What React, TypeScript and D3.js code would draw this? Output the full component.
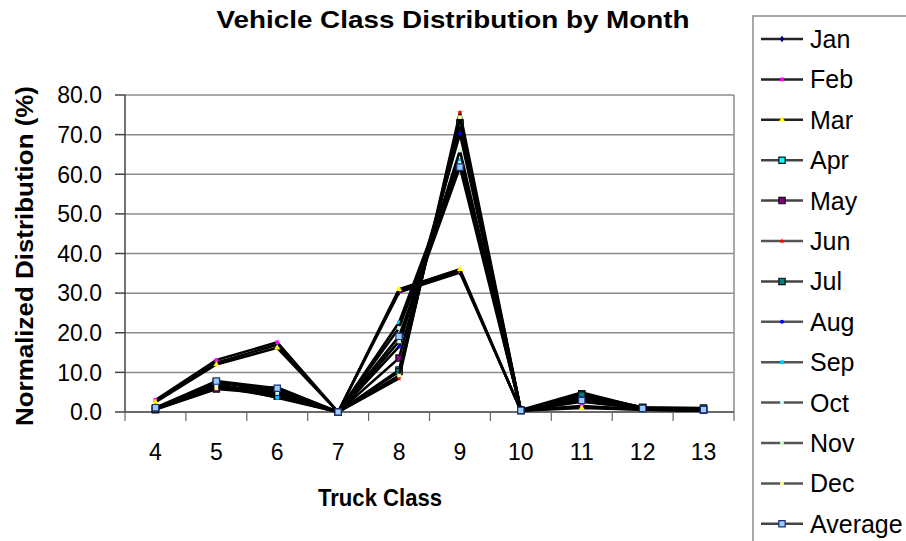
import * as d3 from "d3";

const width = 906;
const height = 541;
const margin = { left: 125, right: 172, top: 95, bottom: 129 };

const classes = ["4", "5", "6", "7", "8", "9", "10", "11", "12", "13"];
const yTicks = [0, 10, 20, 30, 40, 50, 60, 70, 80];

const jan = [2.6, 12.4, 17.0, 0.0, 30.2, 35.2, 0.4, 1.3, 0.6, 0.3];
const feb = [3.0, 13.1, 17.6, 0.0, 30.6, 35.6, 0.4, 1.5, 0.7, 0.4];
const mar = [2.5, 12.0, 16.2, 0.0, 31.0, 36.0, 0.3, 1.0, 0.6, 0.3];
const apr = [0.8, 7.6, 5.2, 0.0, 10.6, 73.0, 0.5, 3.8, 1.0, 0.6];
const may = [0.6, 5.8, 4.6, 0.0, 13.6, 71.2, 0.4, 4.6, 1.1, 0.5];
const jun = [0.7, 6.4, 3.8, 0.0, 8.5, 75.6, 0.5, 4.9, 1.0, 0.5];
const jul = [0.8, 7.2, 4.0, 0.0, 10.2, 72.8, 0.4, 4.3, 1.2, 1.0];
const aug = [0.9, 6.8, 4.4, 0.0, 16.5, 70.2, 0.5, 3.5, 0.9, 0.5];
const sep = [1.0, 7.0, 3.6, 0.0, 22.6, 63.6, 0.4, 3.2, 0.8, 0.4];
const oct = [0.9, 6.6, 4.8, 0.0, 21.2, 62.8, 0.5, 3.0, 0.9, 0.5];
const nov = [0.8, 6.2, 5.6, 0.0, 17.8, 66.0, 0.4, 2.8, 0.8, 0.4];
const dec = [0.7, 6.0, 6.2, 0.0, 9.2, 74.4, 0.3, 2.6, 0.9, 0.5];
const average = [1.1, 7.8, 6.0, 0.0, 19.1, 61.8, 0.4, 2.9, 0.9, 0.6];

type Series = {
  name: string;
  values: number[];
  fill: string;
  shape: d3.SymbolType;
  size: number;
  border: string;
  legendLine: string;
};

// marker style per month, like the old spreadsheet defaults
const series: Series[] = [
  { name: "Jan", values: jan, fill: "#000080", shape: d3.symbolDiamond, size: 14, border: "none", legendLine: "#222" },
  { name: "Feb", values: feb, fill: "#ff00ff", shape: d3.symbolSquare, size: 14, border: "none", legendLine: "#222" },
  { name: "Mar", values: mar, fill: "#ffff00", shape: d3.symbolTriangle, size: 16, border: "none", legendLine: "#222" },
  { name: "Apr", values: apr, fill: "#00ffff", shape: d3.symbolSquare, size: 40, border: "#111", legendLine: "#444" },
  { name: "May", values: may, fill: "#800080", shape: d3.symbolSquare, size: 40, border: "#111", legendLine: "#444" },
  { name: "Jun", values: jun, fill: "#ff0000", shape: d3.symbolStar, size: 10, border: "none", legendLine: "#555" },
  { name: "Jul", values: jul, fill: "#008080", shape: d3.symbolSquare, size: 40, border: "#111", legendLine: "#444" },
  { name: "Aug", values: aug, fill: "#0000ff", shape: d3.symbolCircle, size: 12, border: "none", legendLine: "#555" },
  { name: "Sep", values: sep, fill: "#00ccff", shape: d3.symbolSquare, size: 14, border: "none", legendLine: "#555" },
  { name: "Oct", values: oct, fill: "#ccffff", shape: d3.symbolSquare, size: 14, border: "none", legendLine: "#555" },
  { name: "Nov", values: nov, fill: "#ccffcc", shape: d3.symbolSquare, size: 14, border: "none", legendLine: "#555" },
  { name: "Dec", values: dec, fill: "#ffff99", shape: d3.symbolSquare, size: 14, border: "none", legendLine: "#555" },
  { name: "Average", values: average, fill: "#99ccff", shape: d3.symbolSquare, size: 40, border: "#1f2f6f", legendLine: "#444" },
];

const font = "'Liberation Sans', Arial, sans-serif";

export default function App() {
  const x = d3
    .scaleBand()
    .domain(classes)
    .range([margin.left, width - margin.right]);
  const y = d3
    .scaleLinear()
    .domain([0, 80])
    .range([height - margin.bottom, margin.top]);

  const line = d3
    .line<number>()
    .x((_, i) => (x(classes[i]) ?? 0) + x.bandwidth() / 2)
    .y((d) => y(d));

  const bottom = y(0);
  const top = y(80);
  const right = width - margin.right;

  const legendX = 753;
  const legendY0 = 39;
  const legendStep = 40.4;

  return (
    <svg
      width={width}
      height={height}
      viewBox={`0 0 ${width} ${height}`}
      style={{ position: "absolute", left: 0, top: 0, background: "#fff" }}
      fontFamily={font}
    >
      <text
        x={453}
        y={28}
        textAnchor="middle"
        fontSize={24}
        fontWeight="bold"
        textLength={473}
        lengthAdjust="spacingAndGlyphs"
      >
        Vehicle Class Distribution by Month
      </text>

      {/* gridlines */}
      <g>
        {yTicks.map((t) => (
          <line
            key={t}
            x1={margin.left}
            x2={right}
            y1={y(t)}
            y2={y(t)}
            stroke="#8c8c8c"
            strokeWidth={1.5}
          />
        ))}
        <line x1={right} x2={right} y1={top} y2={bottom} stroke="#8c8c8c" strokeWidth={1.5} />
      </g>

      {/* y axis */}
      <g>
        <line x1={margin.left} x2={margin.left} y1={top} y2={bottom} stroke="#444" strokeWidth={1.5} />
        {yTicks.map((t) => (
          <g key={t}>
            <line x1={margin.left - 10} x2={margin.left} y1={y(t)} y2={y(t)} stroke="#444" strokeWidth={1.5} />
            <text x={102} y={y(t)} dy="0.36em" textAnchor="end" fontSize={23}>
              {t.toFixed(1)}
            </text>
          </g>
        ))}
      </g>

      {/* x axis */}
      <g>
        <line x1={margin.left} x2={right} y1={bottom} y2={bottom} stroke="#555" strokeWidth={1.5} />
        {classes.map((c) => (
          <line
            key={"t" + c}
            x1={(x(c) ?? 0) + x.bandwidth()}
            x2={(x(c) ?? 0) + x.bandwidth()}
            y1={bottom}
            y2={bottom + 9}
            stroke="#666"
            strokeWidth={1.2}
          />
        ))}
        <line x1={margin.left} x2={margin.left} y1={bottom} y2={bottom + 9} stroke="#666" strokeWidth={1.2} />
        {classes.map((c) => (
          <text
            key={c}
            x={(x(c) ?? 0) + x.bandwidth() / 2}
            y={460}
            textAnchor="middle"
            fontSize={23}
          >
            {c}
          </text>
        ))}
      </g>

      <text
        x={380}
        y={506}
        textAnchor="middle"
        fontSize={24}
        fontWeight="bold"
        textLength={124}
        lengthAdjust="spacingAndGlyphs"
      >
        Truck Class
      </text>
      <text
        transform={`translate(33, 256) rotate(-90)`}
        textAnchor="middle"
        fontSize={24}
        fontWeight="bold"
        textLength={340}
        lengthAdjust="spacingAndGlyphs"
      >
        Normalized Distribution (%)
      </text>

      {/* series */}
      <g>
        {series.map((s) => (
          <g key={s.name}>
            <path d={line(s.values) ?? ""} fill="none" stroke="#000" strokeWidth={2.6} strokeLinejoin="round" />
            {s.values.map((v, i) => (
              <path
                key={i}
                transform={`translate(${(x(classes[i]) ?? 0) + x.bandwidth() / 2},${y(v)})`}
                d={d3.symbol(s.shape, s.size)() ?? ""}
                fill={s.fill}
                stroke={s.border}
                strokeWidth={1.2}
              />
            ))}
          </g>
        ))}
      </g>

      {/* legend */}
      <g>
        <rect x={legendX} y={16} width={200} height={560} fill="#fff" stroke="#8c8c8c" strokeWidth={1.5} />
        {series.map((s, i) => {
          const cy = legendY0 + i * legendStep;
          return (
            <g key={s.name}>
              <line x1={761} x2={803} y1={cy} y2={cy} stroke={s.legendLine} strokeWidth={2.5} />
              <path
                transform={`translate(782,${cy})`}
                d={d3.symbol(s.shape, s.size)() ?? ""}
                fill={s.fill}
                stroke={s.border}
                strokeWidth={1.2}
              />
              <text x={810} y={cy} dy="0.36em" fontSize={25}>
                {s.name}
              </text>
            </g>
          );
        })}
      </g>
    </svg>
  );
}
